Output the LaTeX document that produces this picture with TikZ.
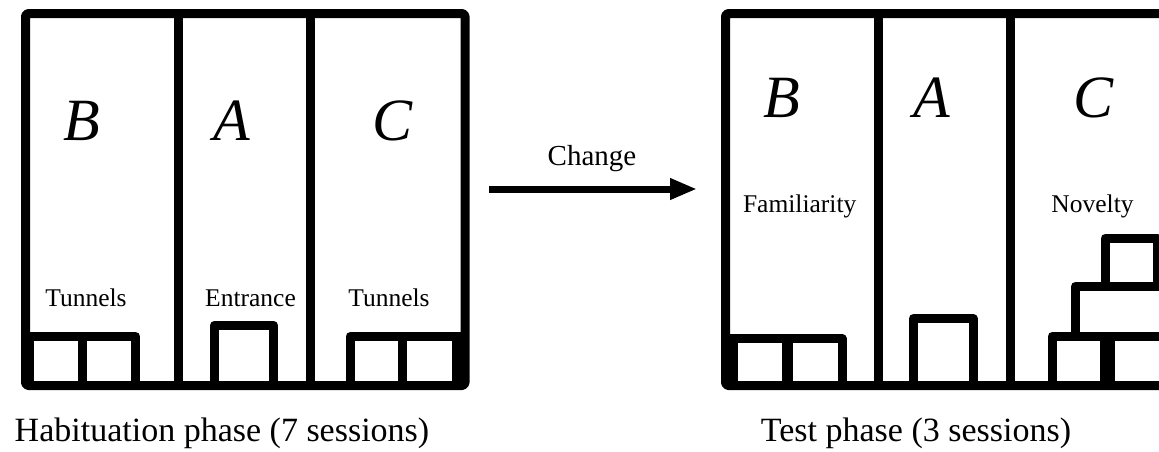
\documentclass[tikz,border=0pt]{standalone}
\usepackage{fontspec}
\setmainfont{Liberation Serif}
\usetikzlibrary{arrows.meta}
\tikzset{
  wall/.style={line width=9pt, line join=round},
  big/.style={font=\fontsize{60}{70}\selectfont\itshape, inner sep=0pt, anchor=base},
  lab/.style={font=\fontsize{25.5}{30}\selectfont, inner sep=0pt, anchor=base},
  captxt/.style={font=\fontsize{34}{40}\selectfont, inner sep=0pt, anchor=base},
}
\begin{document}
\begin{tikzpicture}[x=1pt,y=-1pt]
\useasboundingbox (0,0) rectangle (1159,451);
% ---------- Habituation box ----------
\draw[wall, rounded corners=3pt] (25.5,13.5) rectangle (465,385.5);
\draw[wall] (178,13.5) -- (178,385.5);
\draw[wall] (310.5,13.5) -- (310.5,385.5);
% left tunnels
\draw[line width=8pt] (30,336.5) -- (30,385.5);
\draw[wall] (27,336.5) -- (135.5,336.5) -- (135.5,385.5);
\draw[wall] (82.5,336.5) -- (82.5,385.5);
% entrance
\draw[wall] (214.5,385.5) -- (214.5,325) -- (273.5,325) -- (273.5,385.5);
% right tunnels
\draw[wall] (350,385.5) -- (350,336.5) -- (462,336.5);
\draw[wall] (402.5,336.5) -- (402.5,385.5);
\draw[wall] (456.5,336.5) -- (456.5,385.5);
% labels
\node[big] (hB) at (81.7,140) {B};
\node[big] (hA) at (232,140) {A};
\node[big] (hC) at (393,140) {C};
\node[lab] (hT1) at (86,306) {Tunnels};
\node[lab] (hE) at (250.5,306) {Entrance};
\node[lab] (hT2) at (389,306) {Tunnels};
\node[captxt] (hcap) at (222,441) {Habituation phase (7 sessions)};
% ---------- arrow ----------
\coordinate (arrS) at (489,189);
\coordinate (arrE) at (697,189);
\draw[line width=7pt, -{Triangle[length=27pt,width=20pt]}] (arrS) -- (arrE);
\node[font=\fontsize{29}{34}\selectfont, inner sep=0pt, anchor=base] (chg) at (592,165) {Change};
% ---------- Test box ----------
\draw[wall, rounded corners=3pt] (725.5,13.5) rectangle (1165,385.5);
\draw[wall] (878,13.5) -- (878,385.5);
\draw[wall] (1010.5,13.5) -- (1010.5,385.5);
% familiarity tunnels
\draw[line width=8pt] (734,338.5) -- (734,385.5);
\draw[wall] (727,338.5) -- (842,338.5) -- (842,385.5);
\draw[line width=11pt] (787.5,338.5) -- (787.5,385.5);
% entrance
\draw[wall] (913.5,385.5) -- (913.5,318.5) -- (973,318.5) -- (973,385.5);
% novelty stack
\draw[wall] (1052.3,385.5) -- (1052.3,336) -- (1170,336);
\draw[line width=15pt] (1107.5,336) -- (1107.5,385.5);
\draw[wall] (1075.5,336) -- (1075.5,286.5) -- (1170,286.5);
\draw[wall] (1105,286.5) -- (1105,238) -- (1157.5,238) -- (1157.5,286.5);
% labels
\node[big] (tB) at (781.7,117) {B};
\node[big] (tA) at (932,117) {A};
\node[big] (tC) at (1093,117) {C};
\node[lab] (tF) at (799.7,212) {Familiarity};
\node[lab] (tN) at (1092.5,212) {Novelty};
\node[captxt] (tcap) at (916,441) {Test phase (3 sessions)};
\end{tikzpicture}
\end{document}
